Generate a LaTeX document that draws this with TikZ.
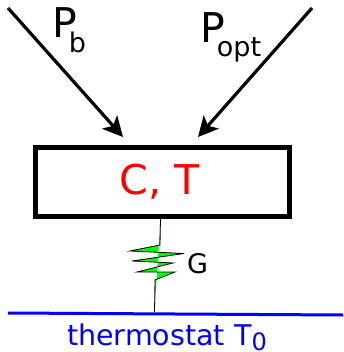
\documentclass[tikz,border=0pt]{standalone}
\usepackage{fontspec}
\setmainfont{DejaVu Sans}
\usepackage{tikz}
\usetikzlibrary{arrows.meta, positioning}

\newcommand{\lowsub}[3]{{\fontsize{#1}{#1}\selectfont\raisebox{-#2pt}{#3}}}

\tikzset{
	body/.style={draw, line width=5pt, minimum width=254pt, minimum height=69pt, inner sep=0pt, text=red, font=\fontsize{41}{41}\selectfont},
	bigtext/.style={inner sep=0pt, font=\fontsize{41}{41}\selectfont},
	power/.style={-{Stealth[length=20pt, width=20pt, inset=5pt]}, line width=3.2pt},
	spring/.style={draw=black, line width=0.8pt, fill=green}
}

\begin{document}
\begin{tikzpicture}[x=1pt, y=-1pt]
	\useasboundingbox (0,0) rectangle (343,352);
	
	% Nodes
	\node[body] (body) at (162,182) {C, T\kern5pt};
	\coordinate (Pb) at (8,8);
	\coordinate (Popt) at (312,8);
	\coordinate (Ttop) at (160.5,218);
	\coordinate (Tbot) at (154.5,312);
	\coordinate (bathL) at (8,313);
	\coordinate (bathR) at (343,315);
	\coordinate (Pbend) at (123,137);
	\coordinate (Poptend) at (198,137);
	\node[bigtext, anchor=base west] (Pblabel) at (52,38) {P\kern-8pt\lowsub{27}{15}{b}};
	\node[bigtext, anchor=base west] (Poptlabel) at (200,43) {P\kern-8pt\lowsub{27}{14}{opt}};
	\node[inner sep=0pt, anchor=base west, font=\fontsize{27}{27}\selectfont] (Glabel) at (187,273) {G};
	\node[inner sep=0pt, anchor=base west, text=blue, font=\fontsize{28.5}{28.5}\selectfont] (bathlabel) at (67,345) {thermostat T\lowsub{24}{5.5}{0}};
	
	% Edges
	\draw[power] (Pb) -- (Pbend);
	\draw[power] (Popt) -- (Poptend);
	\draw[blue, line width=3pt] (bathL) -- (bathR);
	\draw[spring] (Ttop) -- (160,245) -- (130,251) -- (184,253.5) -- (132,261) -- (173,263)
		-- (137,272) -- (175,272) -- (155,280) -- (Tbot);
	
\end{tikzpicture}
\end{document}
